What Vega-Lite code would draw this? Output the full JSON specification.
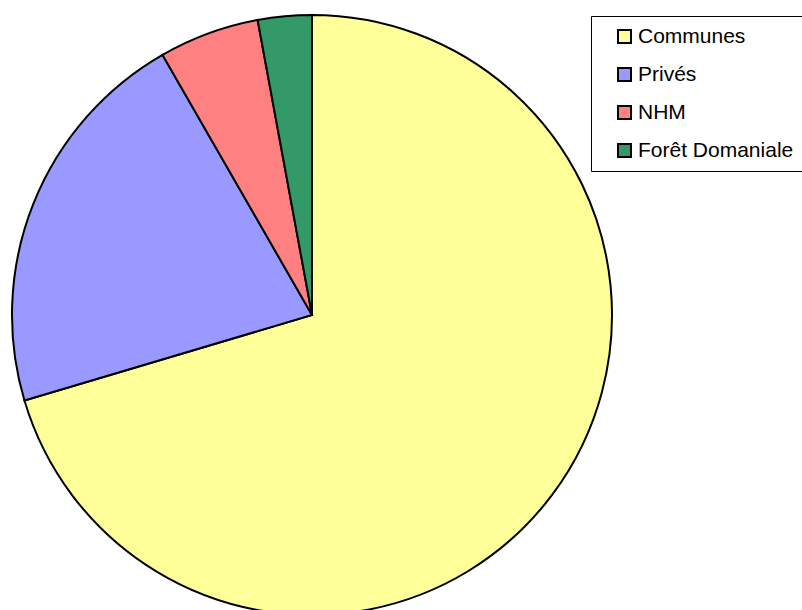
{
  "$schema": "https://vega.github.io/schema/vega-lite/v6.json",
  "autosize": "none",
  "width": 624,
  "height": 630,
  "padding": {"left": 0, "top": 0, "right": 178, "bottom": 0},
  "background": "white",
  "config": {"view": {"stroke": null}},
  "data": {
    "values": [
      {"categorie": "Communes", "part": 70.4, "rang": 1},
      {"categorie": "Privés", "part": 21.3, "rang": 2},
      {"categorie": "NHM", "part": 5.4, "rang": 3},
      {"categorie": "Forêt Domaniale", "part": 2.9, "rang": 4}
    ]
  },
  "mark": {"type": "arc", "radius": 300, "stroke": "black", "strokeWidth": 2},
  "encoding": {
    "theta": {"field": "part", "type": "quantitative"},
    "order": {"field": "rang", "type": "quantitative"},
    "color": {
      "field": "categorie",
      "type": "nominal",
      "scale": {
        "domain": ["Communes", "Privés", "NHM", "Forêt Domaniale"],
        "range": ["#FFFF99", "#9999FF", "#FF8080", "#339966"]
      },
      "legend": {
        "title": null,
        "orient": "none",
        "legendX": 591,
        "legendY": 16,
        "padding": 10,
        "strokeColor": "black",
        "fillColor": "white",
        "symbolType": "square",
        "symbolSize": 169,
        "symbolStrokeColor": "black",
        "symbolStrokeWidth": 2,
        "symbolOffset": 13,
        "labelFont": "Liberation Sans",
        "labelFontSize": 21,
        "labelColor": "black",
        "labelOffset": 3,
        "rowPadding": 16,
        "labelLimit": 300
      }
    }
  }
}
